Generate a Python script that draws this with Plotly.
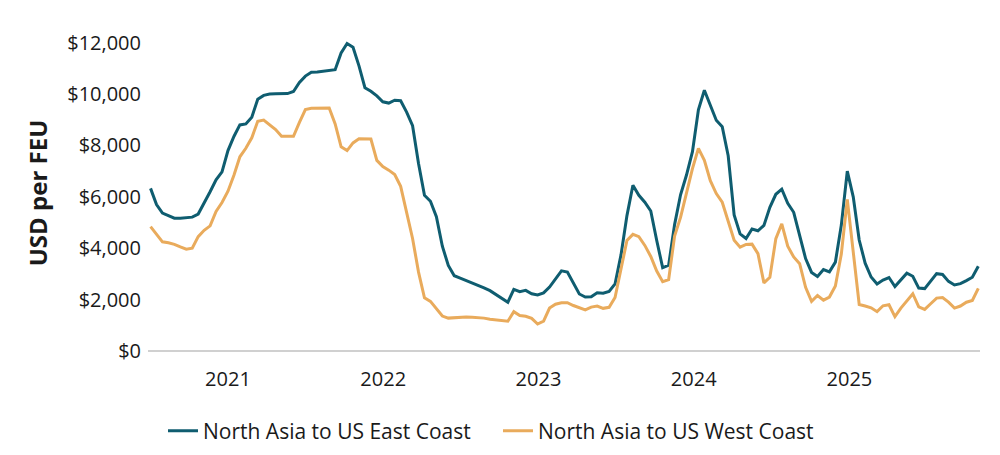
import pandas as pd
import plotly.graph_objects as go

# biweekly spot rates, USD per FEU
dates = pd.date_range('2020-07-03', periods=140, freq='14D')

east_coast = [
    6330, 5700, 5370, 5270, 5170, 5170, 5190, 5210, 5330, 5750,
    6200, 6660, 6970, 7800, 8350, 8800, 8840, 9100, 9800, 9950,
    10000, 10010, 10010, 10020, 10100, 10450, 10700, 10850, 10860, 10890,
    10910, 10950, 11600, 11970, 11820, 11100, 10250, 10110, 9930, 9700,
    9650, 9760, 9740, 9300, 8770, 7300, 6060, 5830, 5230, 4080,
    3330, 2930, 2840, 2750, 2650, 2560, 2460, 2350, 2200, 2030,
    1900, 2400, 2310, 2360, 2230, 2180, 2260, 2490, 2790, 3120,
    3070, 2650, 2220, 2100, 2110, 2270, 2250, 2320, 2610, 3740,
    5270, 6450, 6060, 5790, 5450, 4300, 3240, 3340, 4920, 6080,
    6850, 7760, 9390, 10150, 9600, 8980, 8730, 7600, 5300, 4560,
    4380, 4750, 4680, 4890, 5590, 6100, 6300, 5750, 5400, 4500,
    3600, 3060, 2900, 3170, 3080, 3460, 4900, 7000, 6000, 4320,
    3420, 2880, 2610, 2760, 2860, 2510, 2770, 3030, 2910, 2450,
    2430, 2740, 3010, 2980, 2710, 2570, 2620, 2740, 2870, 3300,
]

west_coast = [
    4840, 4540, 4250, 4210, 4150, 4050, 3960, 4000, 4450, 4700,
    4870, 5430, 5780, 6220, 6840, 7560, 7890, 8300, 8940, 8990,
    8800, 8620, 8360, 8360, 8360, 8900, 9400, 9450, 9460, 9460,
    9460, 8840, 7950, 7800, 8100, 8260, 8250, 8250, 7420, 7180,
    7040, 6870, 6410, 5440, 4380, 3070, 2070, 1930, 1650, 1360,
    1280, 1300, 1320, 1320, 1310, 1300, 1280, 1240, 1210, 1170,
    1160, 1530, 1380, 1350, 1270, 1050, 1160, 1670, 1820, 1880,
    1880, 1770, 1690, 1600, 1710, 1750, 1660, 1700, 2080, 3130,
    4300, 4540, 4450, 4110, 3680, 3110, 2700, 2780, 4470, 5200,
    6120, 7100, 7890, 7420, 6630, 6130, 5790, 5000, 4310, 4040,
    4150, 4160, 3790, 2650, 2870, 4370, 4950, 4080, 3660, 3400,
    2480, 1930, 2160, 1980, 2100, 2530, 3770, 5900, 3770, 1810,
    1750, 1680, 1530, 1760, 1800, 1340, 1670, 1970, 2230, 1720,
    1620, 1840, 2060, 2080, 1900, 1670, 1750, 1900, 1970, 2440,
]

year_ticks = ['2021-01-01', '2022-01-01', '2023-01-01', '2024-01-01', '2025-01-01']
year_labels = ['2021', '2022', '2023', '2024', '2025']
y_ticks = [0, 2000, 4000, 6000, 8000, 10000, 12000]
y_labels = ['$0', '$2,000', '$4,000', '$6,000', '$8,000', '$10,000', '$12,000']

fig = go.Figure()
fig.add_trace(go.Scatter(x=dates, y=east_coast, mode='lines',
                         name='North Asia to US East Coast',
                         line=dict(color='#0f5d70', width=3)))
fig.add_trace(go.Scatter(x=dates, y=west_coast, mode='lines',
                         name='North Asia to US West Coast',
                         line=dict(color='#e9ab5c', width=3)))

# page body has an 8px margin, margins below allow for it
fig.update_layout(
    width=1000, height=455,
    plot_bgcolor='white',
    paper_bgcolor='white',
    font=dict(family='Open Sans', size=20, color='#1a1a1a'),
    margin=dict(l=140, r=28, t=27, b=112),
    legend=dict(orientation='h', xref='container', yref='container',
                x=0.49, xanchor='center', y=0.07, yanchor='middle',
                font=dict(size=21), entrywidth=290, entrywidthmode='pixels'),
)

fig.update_xaxes(
    range=['2020-06-27', '2025-11-04'],
    tickvals=year_ticks, ticktext=year_labels,
    showgrid=False, zeroline=False,
    showline=False, ticks='',
    ticklabelstandoff=14,
)

fig.update_yaxes(
    range=[0, 12300],
    tickvals=y_ticks, ticktext=y_labels,
    showgrid=False, zeroline=True, zerolinecolor='#d0d0d0', zerolinewidth=1.5,
    title=dict(text='<b>USD per FEU</b>', standoff=12),
    ticklabelstandoff=6,
)

fig.write_html('out.html')
